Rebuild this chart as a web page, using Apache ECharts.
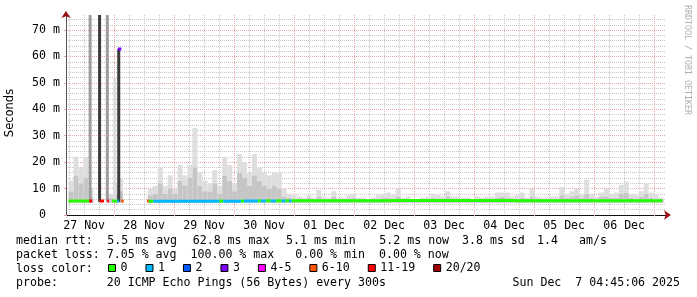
<!DOCTYPE html>
<html><head><meta charset="utf-8">
<script src="https://cdn.jsdelivr.net/npm/echarts@6/dist/echarts.min.js"></script>
<style>html,body{margin:0;padding:0;background:#fff}#c{width:697px;height:297px}</style>
</head><body><div id="c"></div>
<script>
// x reference: days since 27 Nov 00:00 ; first sample at 04:45, 10 days shown
const startHour = 4.75;
const spanDays = 10;
const dayLabels = ['27 Nov','28 Nov','29 Nov','30 Nov','01 Dec','02 Dec','03 Dec','04 Dec','05 Dec','06 Dec'];
const yMax = 75.7;

// smoke, 2-hour bins (ms)
const binHours = 2;
const smokeFloor = 4.6;
const smokeTop = [13,22,18,22,10,null,null,null,8,12,14,null,null,null,null,null,10,11,18,11,15,10,19,15,19,33,16,13,12,17,11,22,19,12,23,20,16,23,18,16,15,16,16,10,8,7.5,7,6.5,
 7.5,6.5,9.5,7,6.5,9,6.5,6.5,7.5,8,
 6.5,6.5,6,6.5,7.5,8,8.5,7.5,10,6.5,
 7,6,6,6.5,7,8,7.5,7,9,7,
 7,6.5,6.5,6,7,6.5,7,7,8.5,8.5,
 8.5,7,7.5,8.5,6.5,10,7,6.5,6.5,7,
 7,10.6,8,9,10,8,13.3,8,7,8.5,
 10,8,8.5,11.4,12.6,8,7.5,9,12,8.5,
 7.5,6.5];
const smokeMid = [9,15,12,14,7,null,null,null,6.5,8,9,null,null,null,null,null,7.5,8,12,8,10,8,13,11,14,18,11,9,9,12,8,15,13,9,16,14,11,15,13,11,10,11,10,7,6.5,6,6,6,
 6.5,6,7,6,6,7,6,6,6,6.5,
 6,6,6,6,6,6.5,6.5,6,7,6,
 6,6,6,6,6,6.5,6,6,7,6,
 6,6,6,6,6,6,6,6,6.5,7,
 6.5,6,6,6.5,6,7,6,6,6,6,
 6,7.5,6.5,7,7.5,6.5,8,6.5,6,7,
 7,6.5,6.5,8,8.5,6.5,6,7,8,6.5,
 6,6];

// tall smoke spikes (hours since first sample, top in ms)
const spikeHours = [9.1, 12.9, 16.0, 19.0, 20.6];
const spikeDark  = [null, 75.7, null, null, 62.8];
const spikeMidT  = [75.7, null, 75.7, null, null];
const spikeLight = [null, null, null, 52, null];
const spikeFloor = 5;

// median rtt runs [fromHour, toHour, ms] per loss class
const loss0Runs  = [[0,8.3,5.3],[17.6,19.6,5.3],[32.3,34.2,5.2],[60.8,62.4,5.3],[69.6,70.8,5.3],[76.4,77.6,5.4],[79.6,81.6,5.4],[83.6,86,5.4],[87.5,89,5.4],[90,130,5.4],[130,180,5.5],[180,239.6,5.4]];
const loss1Runs  = [[19.6,20.3,5.3],[34.2,60.8,5.2],[62.4,69.6,5.2],[70.8,76.4,5.3],[77.6,79.6,5.3],[81.6,83.6,5.3],[86,87.5,5.3],[89,90,5.3]];
const loss2Runs  = [];
const loss3Runs  = [[19.9,21.3,62.8]];
const loss45Runs = [];
const loss610Runs= [[21.3,22.3,5.3],[31.6,32.3,5.3]];
const loss1119Runs=[[8.3,9.6,5.3],[12.5,14.3,5.3],[15.6,16.3,5.3]];
const loss20Runs = [];

const lossNames  = ['0','1','2','3','4-5','6-10','11-19','20/20'];
const lossColors = ['#26ff00','#00b8ff','#0059ff','#7e00ff','#ff00ff','#ff5500','#ff0000','#a10000'];
const lossRuns = [loss0Runs,loss1Runs,loss2Runs,loss3Runs,loss45Runs,loss610Runs,loss1119Runs,loss20Runs];

// legend text: [text, x, y]
const textItems = [
  ['median rtt:', 16, 241],
  ['5.5 ms avg', 107.3, 241],
  ['62.8 ms max', 192.7, 241],
  ['5.1 ms min', 286, 241],
  ['5.2 ms now', 379.3, 241],
  ['3.8 ms sd', 462, 241],
  ['1.4', 537, 241],
  ['am/s', 579, 241],
  ['packet loss: 7.05 % avg  100.00 % max   0.00 % min  0.00 % now', 16, 255],
  ['loss color:', 16, 269],
  ['probe:       20 ICMP Echo Pings (56 Bytes) every 300s', 16, 283]
];
const stampText = 'Sun Dec  7 04:45:06 2025';
const credit = 'RRDTOOL / TOBI OETIKER';

const HOUR = 3600000;
const T0 = Date.UTC(2025, 10, 27) + startHour * HOUR;
const toTime = h => T0 + h * HOUR;
const d0 = startHour / 24, d1 = d0 + spanDays;
const t1 = T0 + spanDays * 24 * HOUR;
const MONO = '"DejaVu Sans Mono", monospace';
const majorCol = '#eba3a3', minorCol = '#c8c8c8';

const binX = smokeTop.map((_, i) => toTime(i * binHours + binHours / 2));
const smokeBase = smokeTop.map((t, i) => [binX[i], t == null ? null : smokeFloor]);
const smokeMidSeg = smokeTop.map((t, i) => [binX[i], t == null ? null : smokeMid[i] - smokeFloor]);
const smokeTopSeg = smokeTop.map((t, i) => [binX[i], t == null ? null : t - smokeMid[i]]);

const spX = spikeHours.map(toTime);
const spBase = spX.map(x => [x, spikeFloor]);
const spSeg = arr => arr.map((v, i) => [spX[i], v == null ? null : v - spikeFloor]);

function runsToLine(runs) {
  const out = [];
  runs.forEach(r => {
    out.push([toTime(r[0]), r[2]]);
    out.push([toTime(r[1]), r[2]]);
    out.push([toTime(r[1]), null]);
  });
  return out;
}

const series = [
  {type:'bar', xAxisIndex:3, stack:'smoke', barWidth:5, data:smokeBase, itemStyle:{color:'rgba(0,0,0,0)'}, silent:true},
  {type:'bar', xAxisIndex:3, stack:'smoke', barWidth:5, data:smokeMidSeg, itemStyle:{color:'#c6c6c6'}, silent:true},
  {type:'bar', xAxisIndex:3, stack:'smoke', barWidth:5, data:smokeTopSeg, itemStyle:{color:'#dedede'}, silent:true},
  {type:'bar', xAxisIndex:4, stack:'spike', barWidth:3, data:spBase, itemStyle:{color:'rgba(0,0,0,0)'}, silent:true},
  {type:'bar', xAxisIndex:4, stack:'spike', barWidth:3, data:spSeg(spikeDark), itemStyle:{color:'#3a3a3a'}, silent:true},
  {type:'bar', xAxisIndex:4, stack:'spike', barWidth:3, data:spSeg(spikeMidT), itemStyle:{color:'#9c9c9c'}, silent:true},
  {type:'bar', xAxisIndex:4, stack:'spike', barWidth:3, data:spSeg(spikeLight), itemStyle:{color:'#dcdcdc'}, silent:true}
];
lossNames.forEach((n, i) => {
  series.push({name:n, type:'line', xAxisIndex:3, data:runsToLine(lossRuns[i]), color:lossColors[i],
    showSymbol:false, symbol:'none', connectNulls:false, lineStyle:{width:3, color:lossColors[i], cap:'butt'}, silent:true, z:5});
});

const hiddenTime = {type:'time', min:T0, max:t1, position:'bottom', show:false,
  axisLine:{show:false}, axisTick:{show:false}, axisLabel:{show:false}, splitLine:{show:false}};

const graphics = [
  {type:'text', x:10, y:113, rotation:Math.PI/2, silent:true,
    style:{text:'Seconds', font:'11.5px "DejaVu Sans", sans-serif', fill:'#000', align:'center', verticalAlign:'middle'}},
  {type:'text', x:687, y:5, rotation:-Math.PI/2, silent:true,
    style:{text:credit, font:'8.3px ' + MONO, fill:'#b0b0b0', align:'left', verticalAlign:'middle'}},
  {type:'text', x:680, y:283, silent:true, style:{text:stampText, font:'11.6px ' + MONO, fill:'#000', align:'right', verticalAlign:'middle'}}
];
textItems.forEach(t => graphics.push({type:'text', x:t[1], y:t[2], silent:true,
  style:{text:t[0], font:'11.6px ' + MONO, fill:'#000', verticalAlign:'middle'}}));

const chart = echarts.init(document.getElementById('c'), null, {renderer:'canvas'});
chart.setOption({
  animation:false,
  backgroundColor:'#ffffff',
  grid:{left:66, right:31, top:15, bottom:82, containLabel:false},
  legend:{data:lossNames, left:108, top:262, icon:'rect', itemWidth:7, itemHeight:7, itemGap:18, padding:0,
    selectedMode:false, itemStyle:{borderColor:'#000', borderWidth:1},
    textStyle:{fontFamily:MONO, fontSize:11.6, color:'#000'}},
  xAxis:[
    {type:'value', min:d0, max:d1, minInterval:1, maxInterval:1, splitNumber:10, position:'bottom',
      axisLine:{show:true, onZero:false, lineStyle:{color:'#111', width:1}},
      axisTick:{show:true, length:3, lineStyle:{color:majorCol, type:[1,1]}},
      axisLabel:{show:false},
      splitLine:{show:true, showMinLine:false, showMaxLine:false, lineStyle:{color:majorCol, type:[1,1], width:1}},
      minorTick:{show:false, splitNumber:4},
      minorSplitLine:{show:true, lineStyle:{color:minorCol, type:[1,1], width:1}}},
    {type:'value', min:d0 - 0.5, max:d1 - 0.5, minInterval:1, maxInterval:1, splitNumber:10, position:'bottom',
      axisLine:{show:false}, axisTick:{show:false}, splitLine:{show:false},
      axisLabel:{show:true, margin:5, fontFamily:MONO, fontSize:11.6, color:'#000',
        formatter:v => (Number.isInteger(v) && dayLabels[v]) ? dayLabels[v] : ''}},
    {type:'value', min:d0, max:d1, position:'bottom',
      axisLine:{show:true, onZero:false, symbol:['none','arrow'], symbolSize:[7,7], symbolOffset:[0,5], lineStyle:{color:'#9b1010', width:0.01}},
      axisTick:{show:false}, axisLabel:{show:false}, splitLine:{show:false}},
    hiddenTime,
    Object.assign({}, hiddenTime)
  ],
  yAxis:[
    {type:'value', min:0, max:yMax, interval:10, position:'left',
      axisLine:{show:true, onZero:false, lineStyle:{color:'#555', width:1}},
      axisTick:{show:true, length:2, lineStyle:{color:majorCol}},
      axisLabel:{show:true, margin:6, showMaxLabel:false, fontFamily:MONO, fontSize:11.6, color:'#000',
        formatter:v => v === 0 ? '0  ' : v + ' m'},
      splitLine:{show:true, showMinLine:false, showMaxLine:false, lineStyle:{color:majorCol, type:[1,1], width:1}},
      minorTick:{show:false, splitNumber:5},
      minorSplitLine:{show:true, lineStyle:{color:minorCol, type:[1,1], width:1}}},
    {type:'value', min:0, max:yMax, position:'left', offset:0,
      axisLine:{show:true, onZero:false, symbol:['none','arrow'], symbolSize:[7,7], symbolOffset:[0,4], lineStyle:{color:'#9b1010', width:0.01}},
      axisTick:{show:false}, axisLabel:{show:false}, splitLine:{show:false}}
  ],
  graphic:graphics,
  series:series
});
</script>
</body></html>
